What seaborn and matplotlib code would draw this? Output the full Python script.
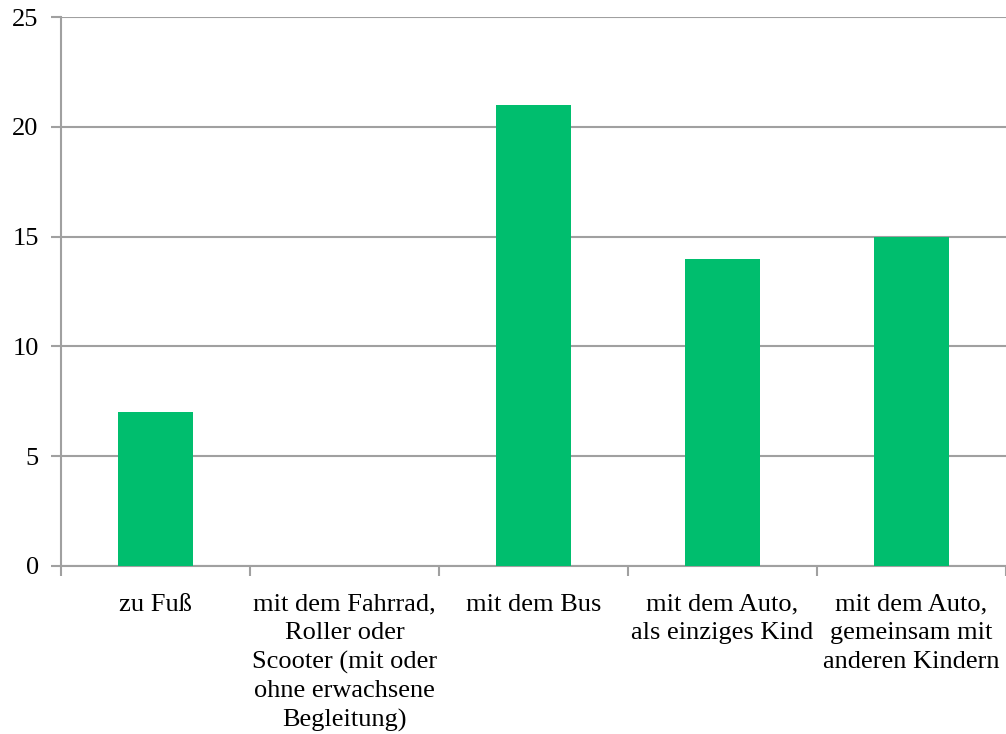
import matplotlib.pyplot as plt
import seaborn as sns
import pandas as pd
import numpy as np

categories = [
    "zu Fuß",
    "mit dem Fahrrad,\nRoller oder\nScooter (mit oder\nohne erwachsene\nBegleitung)",
    "mit dem Bus",
    "mit dem Auto,\nals einziges Kind",
    "mit dem Auto,\ngemeinsam mit\nanderen Kindern",
]
values = [7, 0, 21, 14, 15]
y_ticks = [0, 5, 10, 15, 20, 25]

sns.set_style("white")
plt.rcParams['font.family'] = ['Liberation Serif', 'DejaVu Serif']
plt.rcParams['text.color'] = 'black'
plt.rcParams['xtick.color'] = 'black'
plt.rcParams['ytick.color'] = 'black'

df = pd.DataFrame({"cat": categories, "val": values})

fig = plt.figure(figsize=(10.06, 7.34), dpi=100)
ax = fig.add_axes([0.0606, 0.2289, 0.9394, 0.7479])
sns.barplot(data=df, x="cat", y="val", color="#00BE6E", saturation=1,
            width=0.4, linewidth=0, ax=ax, zorder=3)

grid_c = "#A0A0A0"
ax.set_ylim(0, 25)
ax.set_xlim(-0.5, len(categories) - 0.5)
ax.set_yticks(y_ticks)
ax.set_yticklabels([str(t) for t in y_ticks], fontsize=19)
ax.yaxis.grid(True, color=grid_c, linewidth=1.5, zorder=0)
ax.set_axisbelow(True)

for s in ["top", "right"]:
    ax.spines[s].set_visible(False)
for s in ["left", "bottom"]:
    ax.spines[s].set_color(grid_c)
    ax.spines[s].set_linewidth(1.5)

ax.tick_params(axis='y', length=7, width=1.5, color=grid_c, pad=9, left=True)
ax.tick_params(axis='x', which='major', length=0, pad=20, labelsize=19)
ax.set_xticks(np.arange(-0.5, len(categories)), minor=True)
ax.tick_params(axis='x', which='minor', length=7, width=1.5, color=grid_c, bottom=True)
for lbl in ax.get_xticklabels():
    lbl.set_linespacing(1.38)
ax.set_xlabel("")
ax.set_ylabel("")

plt.savefig("out.png", dpi=100)
